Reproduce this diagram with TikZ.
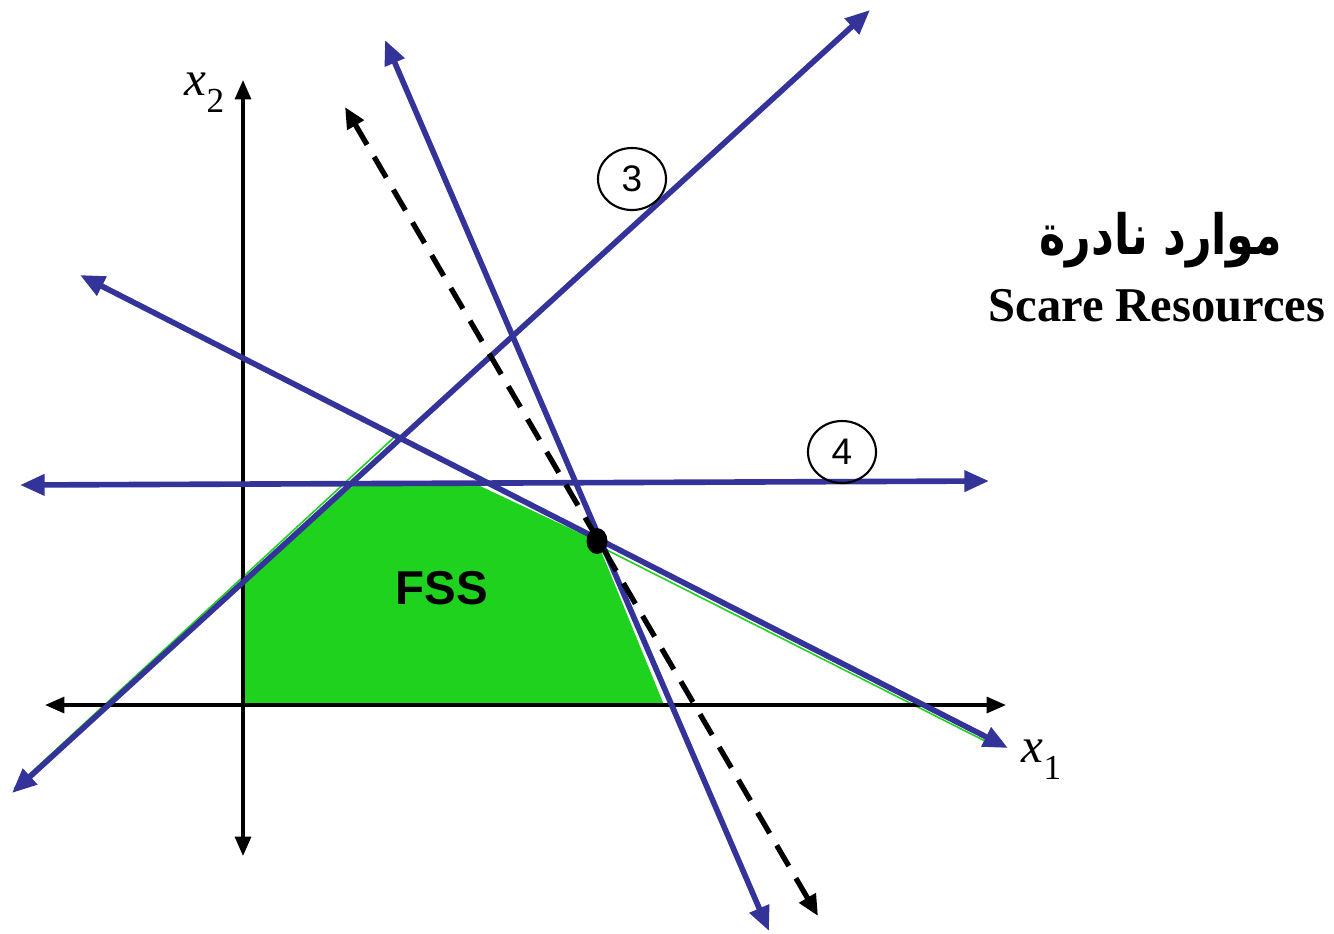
\documentclass[tikz,border=0pt]{standalone}
\usepackage{fontspec}
\setmainfont{Liberation Serif}
\newfontfamily\arialfont{Liberation Sans}
\newfontfamily\arabicfont[Script=Arabic]{DejaVu Sans}
\TeXXeTstate=1
\usetikzlibrary{arrows.meta,shapes.geometric}
\definecolor{lineblue}{RGB}{51,51,153}
\definecolor{fssgreen}{RGB}{30,210,30}
\tikzset{
  axis/.style={line width=1pt, black, {Triangle[length=5.5pt,width=4.5pt]}-{Triangle[length=5.5pt,width=4.5pt]}},
  constraint/.style={line width=1.6pt, lineblue, {Triangle[length=7pt,width=5.8pt]}-{Triangle[length=7pt,width=5.8pt]}},
  objective/.style={line width=1.5pt, black, dash pattern=on 6.8pt off 4pt, {Triangle[length=6pt,width=5.2pt]}-{Triangle[length=6pt,width=5.2pt]}},
  sliver/.style={line width=0.45pt, fssgreen},
  numcircle/.style={ellipse, draw=black, line width=0.6pt, minimum width=0.68cm, minimum height=0.62cm, inner sep=0pt, font=\arialfont\fontsize{10.5}{10.5}\selectfont},
  axlabel/.style={inner sep=0pt, font=\fontsize{14}{14}\selectfont}
}
\begin{document}
\begin{tikzpicture}[x=0.01cm,y=-0.01cm]
\useasboundingbox (0,0) rectangle (1334,933);
% feasible region
\fill[fssgreen] (243,705) -- (243,580) -- (353,486) -- (480,486) -- (597,541) -- (664,705) -- cycle;
\draw[sliver] (600,546.5) -- (985,741);
\draw[sliver] (14,788.5) -- (396,435.5);
% axes
\coordinate (x1l) at (45,705);
\coordinate (x1r) at (1006,705);
\coordinate (x2b) at (243,856);
\coordinate (x2t) at (243,80);
\draw[axis] (x1l) -- (x1r);
\draw[axis] (x2b) -- (x2t);
% constraint lines
\coordinate (a1) at (12,793);
\coordinate (a2) at (870,10);
\coordinate (b1) at (385,40);
\coordinate (b2) at (769,931);
\coordinate (c1) at (80,275);
\coordinate (c2) at (1008,748);
\coordinate (d1) at (20,485);
\coordinate (d2) at (989,481);
\coordinate (o1) at (345,107);
\coordinate (o2) at (818,916);
\draw[constraint] (a1) -- (a2);
\draw[constraint] (b1) -- (b2);
\draw[constraint] (c1) -- (c2);
\draw[constraint] (d1) -- (d2);
\draw[objective] (o1) -- (o2);
% optimal point
\node[ellipse, fill=black, minimum width=0.21cm, minimum height=0.26cm, inner sep=0pt] (dot) at (597,541) {};
% labels
\node[numcircle] (n3) at (632,179) {3};
\node[numcircle] (n4) at (842,452) {4};
\node[inner sep=0pt, font=\arialfont\bfseries\fontsize{13.5}{13.5}\selectfont] (fss) at (442,588) {FSS};
\node[axlabel, anchor=base west] (lx2) at (184,95) {\textit{x}\raisebox{-5pt}{\fontsize{10}{10}\selectfont 2}};
\node[axlabel, anchor=base west] (lx1) at (1021,762) {\textit{x}\raisebox{-5pt}{\fontsize{10}{10}\selectfont 1}};
\node[inner sep=0pt] (ar) at (1161,240) {\scalebox{0.8}[1]{\arabicfont\bfseries\fontsize{15.8}{15.8}\selectfont\beginR موارد نادرة\endR}};
\node[inner sep=0pt, anchor=base, font=\bfseries\fontsize{13.8}{13.8}\selectfont] (en) at (1157,321) {Scare Resources};
\end{tikzpicture}
\end{document}
